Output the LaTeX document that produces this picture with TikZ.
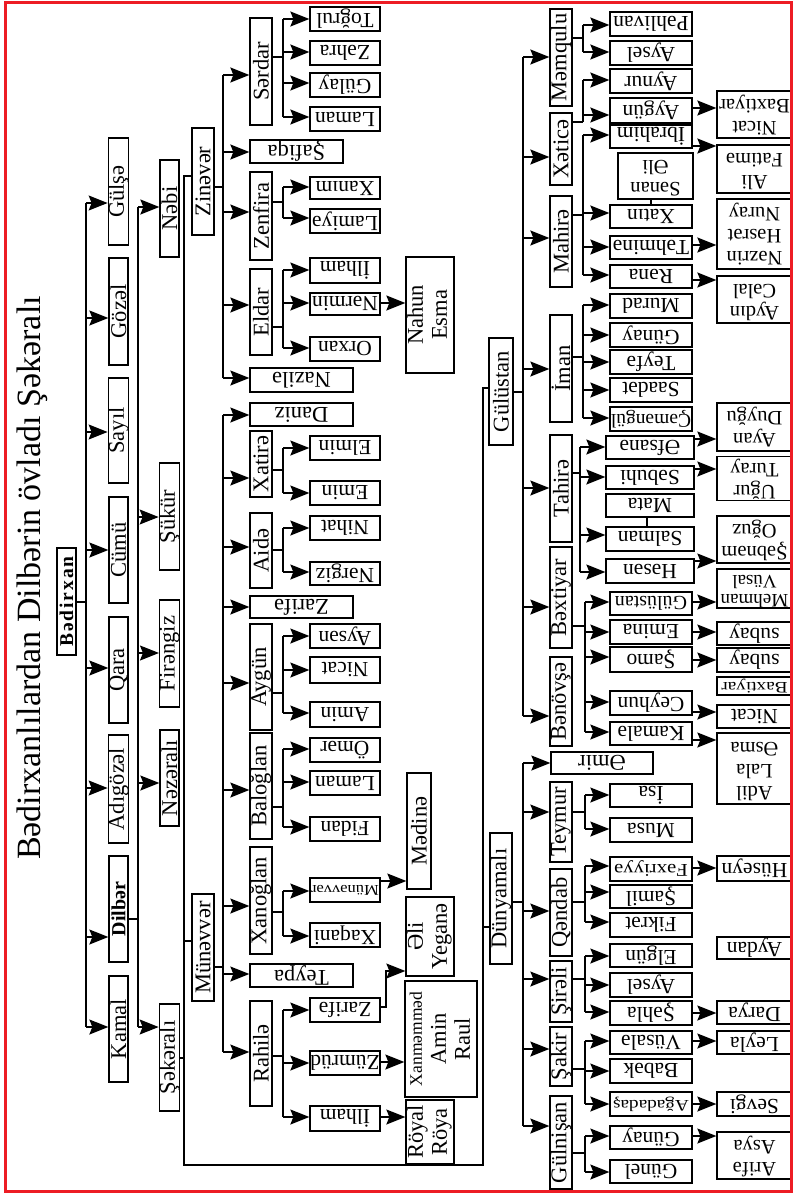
\documentclass[tikz,border=0pt]{standalone}
\usepackage{fontspec}
\setmainfont{Liberation Serif}
\newfontfamily\spacedserif[LetterSpace=10]{Liberation Serif}
\usetikzlibrary{arrows.meta}
\newcommand\fA{\fontsize{22.5}{24}\selectfont}
\newcommand\fB{\fontsize{21.5}{23}\selectfont}
\newcommand\fC{\fontsize{20.5}{22}\selectfont}
\newcommand\tl[2]{\begin{tabular}{@{}c@{}}#1\\#2\end{tabular}}
\newcommand\thl[3]{\begin{tabular}{@{}c@{}}#1\\#2\\#3\end{tabular}}
\newcommand\narrow[3]{\scalebox{#1}[1]{\fontsize{#2}{#2}\selectfont #3}}
\tikzset{
  ln/.style={line width=1.3pt},
  arr/.style={line width=1.3pt,-{Stealth[length=19pt,width=15pt,inset=3pt]}},
  bxs/.style={draw,line width=1.3pt,inner sep=0pt,rectangle,font=\fB}
}
% name, x1, y1, x2, y2, rotation, text
\newcommand\bx[7]{\node[bxs,minimum width={(#4-#2)*1pt},minimum height={(#5-#3)*1pt}] (#1) at ({(#2+#4)/2},{(#3+#5)/2}) {\rotatebox{#6}{#7}};}
% parent, connector y, trunk x, trunk y1, trunk y2, children list
\newcommand\kin[6]{\draw[ln] (#1.east |- 0,#2) -- (#3,#2); \draw[ln] (#3,#4) -- (#3,#5);
  \foreach \n/\y in {#6} \draw[arr] (#3,\y) -- (\n.west |- 0,\y);}
\begin{document}
\begin{tikzpicture}[x=1pt,y=-1pt]
\useasboundingbox (0,0) rectangle (793,1194);
\fill[white] (0,0) rectangle (793,1194);
% title
\node[rotate=90,font=\fontsize{34}{36}\selectfont,inner sep=0pt] (title) at (32,578) {Bədirxanlılardan Dilbərin övladı Şəkəralı};
% level 0
\bx{bedir}{57}{548}{76}{655}{90}{\fontsize{19.5}{21}\selectfont\spacedserif\bfseries Bədirxan}
% level 1
\bx{gulse}{109}{138}{128}{245}{90}{\fA Gülşə}
\bx{gozel}{109}{258}{128}{365}{90}{\fA Gözəl}
\bx{sayil}{109}{378}{128}{483}{90}{\fA Sayıl}
\bx{cumu}{109}{497}{128}{603}{90}{\fA Cümü}
\bx{qara}{109}{617}{128}{723}{90}{\fA Qara}
\bx{adigozel}{109}{735}{128}{843}{90}{\fA Adıgözəl}
\bx{dilber}{109}{856}{128}{962}{90}{\fontsize{20}{22}\selectfont\bfseries Dilbər}
\bx{kamal}{109}{976}{128}{1082}{90}{\fA Kamal}
% level 2
\bx{nebi}{160}{160}{179}{257}{90}{\fA Nəbi}
\bx{sukur}{160}{463}{179}{570}{90}{\fA Şükür}
\bx{firengiz}{160}{600}{179}{707}{90}{\fA Firəngiz}
\bx{nezerali}{160}{730}{179}{826}{90}{\fA Nəzəralı}
\bx{sekerali}{160}{1004}{179}{1111}{90}{\fA Şəkəralı}
% level 3
\bx{zinever}{192}{128}{214}{235}{90}{\fA Zinəvər}
\bx{munevver}{192}{894}{214}{1001}{90}{\fA Münəvvər}
\bx{gulustan}{489}{338}{513}{445}{90}{\fA Gülüstan}
\bx{dunyamali}{490}{833}{512}{964}{90}{\fA Dünyamalı}
% level 4 left
\bx{serdar}{250}{18}{272}{125}{90}{\fA Sərdar}
\bx{safiqa}{250}{140}{343}{163}{180}{\fA Şafiqa}
\bx{zenfira}{250}{172}{272}{260}{90}{\fA Zenfira}
\bx{eldar}{250}{269}{272}{355}{90}{\fA Eldar}
\bx{nazile}{250}{368}{353}{392}{180}{\fA Nazilə}
\bx{daniz}{250}{403}{353}{426}{180}{\fA Daniz}
\bx{xatire}{250}{431}{272}{497}{90}{\fA Xatirə}
\bx{aide}{250}{513}{272}{588}{90}{\fA Aidə}
\bx{zarifeA}{250}{596}{353}{618}{180}{\fA Zarifə}
\bx{aygun}{250}{624}{272}{730}{90}{\fA Aygün}
\bx{baloglan}{250}{733}{272}{839}{90}{\fA Baloğlan}
\bx{xanoglan}{250}{847}{272}{954}{90}{\fA Xanoğlan}
\bx{teypa}{250}{964}{353}{987}{180}{\fA Teypa}
\bx{rahile}{250}{1001}{272}{1106}{90}{\fA Rahilə}
% level 5 left
\bx{togrul}{310}{7}{380}{31}{180}{Toğrul}
\bx{zehra}{310}{41}{380}{65}{180}{Zəhra}
\bx{gulay}{310}{73}{380}{97}{180}{Gülay}
\bx{lamanA}{310}{107}{380}{131}{180}{Laman}
\bx{xanim}{310}{177}{380}{199}{180}{Xanım}
\bx{lamiye}{310}{209}{380}{233}{180}{Lamiyə}
\bx{ilhamA}{310}{258}{380}{283}{180}{İlham}
\bx{nermin}{310}{293}{380}{315}{180}{Nərmin}
\bx{orxan}{310}{337}{380}{361}{180}{Orxan}
\bx{elmin}{310}{436}{380}{460}{180}{Elmin}
\bx{emin}{310}{481}{380}{505}{180}{Emin}
\bx{nihat}{310}{516}{380}{540}{180}{Nihat}
\bx{nergiz}{310}{562}{380}{585}{180}{Nərgiz}
\bx{aysen}{310}{624}{380}{648}{180}{Aysən}
\bx{nicatA}{310}{657}{380}{683}{180}{Nicat}
\bx{aminA}{310}{702}{380}{727}{180}{Amin}
\bx{omer}{310}{738}{380}{762}{180}{Ömər}
\bx{lamanB}{310}{771}{380}{795}{180}{Laman}
\bx{fidan}{310}{817}{380}{841}{180}{Fidan}
\bx{munevverB}{310}{878}{380}{902}{180}{\narrow{1.1}{15}{Münəvvər}}
\bx{xaqani}{310}{923}{380}{947}{180}{Xaqani}
\bx{zarifeB}{310}{998}{380}{1022}{180}{Zarifə}
\bx{zumrud}{310}{1051}{380}{1075}{180}{Zümrüd}
\bx{ilhamB}{310}{1106}{380}{1131}{180}{İlham}
% side boxes left
\bx{nahun}{407}{257}{453}{373}{90}{\fA\tl{Nahun}{Esma}}
\bx{medine}{407}{773}{431}{889}{90}{\fA Mədinə}
\bx{eli}{407}{897}{453}{976}{90}{\fA\tl{Əli}{Yeganə}}
\bx{xanm}{407}{981}{475}{1097}{90}{\fA\begin{tabular}{@{}c@{}}{\fontsize{17.5}{19}\selectfont Xanməmməd}\\Amin\\Raul\end{tabular}}
\bx{royal}{407}{1100}{453}{1164}{90}{\fA\tl{Röyal}{Röya}}
% right level
\bx{memqulu}{550}{9}{572}{106}{90}{\fA Məmqulu}
\bx{xetice}{550}{113}{572}{185}{90}{\fA Xəticə}
\bx{mahire}{550}{196}{572}{287}{90}{\fA Mahirə}
\bx{iman}{550}{315}{572}{422}{90}{\fA İman}
\bx{tahire}{550}{435}{572}{542}{90}{\fA Tahirə}
\bx{bextiyar}{550}{547}{572}{648}{90}{\fA Bəxtiyar}
\bx{benovse}{550}{657}{572}{746}{90}{\fA Bənövşə}
\bx{emir}{551}{752}{653}{774}{180}{\fA Əmir}
\bx{teymur}{550}{782}{572}{862}{90}{\fA Teymur}
\bx{qendab}{550}{869}{572}{956}{90}{\fA Qəndab}
\bx{sirali}{550}{961}{572}{1022}{90}{\fA Şirəli}
\bx{sakir}{550}{1027}{572}{1086}{90}{\fA Şakir}
\bx{gulnisan}{550}{1096}{572}{1189}{90}{\fA Gülnişan}
% right leaves
\bx{pehlivan}{610}{12}{692}{36}{180}{Pəhlivan}
\bx{aysel}{610}{41}{692}{65}{180}{Aysel}
\bx{aynur}{610}{69}{692}{93}{180}{Aynur}
\bx{aygunB}{610}{98}{692}{123}{180}{Aygün}
\bx{ibrahim}{610}{125}{692}{148}{180}{İbrahim}
\bx{senan}{618}{153}{693}{199}{180}{\fC\tl{Sənan}{Əli}}
\bx{xatin}{610}{205}{692}{228}{180}{Xatın}
\bx{tehmine}{610}{236}{692}{259}{180}{Təhminə}
\bx{rena}{610}{265}{692}{288}{180}{Rəna}
\bx{murad}{610}{294}{692}{318}{180}{Murad}
\bx{gunayA}{610}{323}{692}{347}{180}{Günay}
\bx{teyfa}{610}{350}{692}{374}{180}{Teyfə}
\bx{saadet}{610}{378}{692}{402}{180}{Saadət}
\bx{cemengul}{610}{407}{692}{431}{180}{\fontsize{19.5}{21}\selectfont Çəməngül}
\bx{efsane}{606}{436}{694}{459}{180}{Əfsanə}
\bx{sebuhi}{606}{466}{694}{489}{180}{Səbuhi}
\bx{mata}{606}{494}{694}{517}{180}{Mata}
\bx{salman}{606}{527}{694}{551}{180}{Salman}
\bx{hesen}{606}{559}{694}{583}{180}{Həsən}
\bx{gulustanB}{610}{592}{692}{615}{180}{\fontsize{20}{22}\selectfont Gülüstan}
\bx{emina}{610}{620}{692}{644}{180}{Emina}
\bx{samo}{610}{647}{692}{672}{180}{Şamo}
\bx{ceyhun}{610}{691}{692}{715}{180}{Ceyhun}
\bx{kamale}{610}{722}{692}{745}{180}{Kamalə}
\bx{isa}{610}{784}{692}{807}{180}{İsa}
\bx{musa}{610}{818}{692}{842}{180}{Musa}
\bx{fexriyye}{610}{857}{692}{881}{180}{\narrow{1.15}{18}{Fəxriyyə}}
\bx{samil}{610}{885}{692}{908}{180}{Şamil}
\bx{fikret}{610}{913}{692}{937}{180}{Fikrət}
\bx{elgun}{610}{944}{692}{967}{180}{Elgün}
\bx{aysel2}{610}{973}{692}{997}{180}{Aysel}
\bx{sehla}{610}{1001}{692}{1025}{180}{Şəhla}
\bx{vusale}{610}{1031}{692}{1054}{180}{Vüsalə}
\bx{babek}{610}{1059}{692}{1083}{180}{Babək}
\bx{agadadas}{610}{1092}{692}{1116}{180}{\narrow{1.2}{16}{Ağadadaş}}
\bx{gunayB}{610}{1126}{692}{1149}{180}{Günay}
\bx{gunel}{610}{1160}{692}{1183}{180}{Günel}
% outer column
\bx{nicatB}{717}{91}{792}{138}{180}{\fC\tl{Nicat}{Baxtiyar}}
\bx{ali}{717}{145}{792}{193}{180}{\fC\tl{Ali}{Fatimə}}
\bx{nezrin}{717}{199}{792}{269}{180}{\fC\thl{Nəzrin}{Həsrət}{Nuray}}
\bx{aydin}{717}{276}{792}{323}{180}{\fC\tl{Aydın}{Cəlal}}
\bx{ayan}{717}{403}{792}{451}{180}{\fC\tl{Ayan}{Duyğu}}
\bx{ugur}{717}{457}{792}{500}{180}{\fC\tl{Uğur}{Turay}}
\bx{sebnem}{717}{516}{792}{563}{180}{\fC\tl{Şəbnəm}{Oğuz}}
\bx{mehman}{717}{569}{792}{608}{180}{\fontsize{19}{19}\selectfont\tl{Mehman}{Vüsal}}
\bx{subayA}{717}{622}{792}{645}{180}{subay}
\bx{subayB}{717}{648}{792}{672}{180}{subay}
\bx{baxtiyar}{717}{677}{792}{695}{180}{\narrow{1.2}{16}{Baxtiyar}}
\bx{nicatC}{717}{705}{792}{728}{180}{Nicat}
\bx{adil}{717}{733}{792}{804}{180}{\fC\thl{Adil}{Lala}{Əsma}}
\bx{huseyn}{717}{856}{792}{881}{180}{Hüseyn}
\bx{aydan}{717}{937}{792}{959}{180}{Aydan}
\bx{darya}{717}{1001}{792}{1024}{180}{Darya}
\bx{leyla}{717}{1031}{792}{1054}{180}{Leyla}
\bx{sevgi}{717}{1092}{792}{1116}{180}{Sevgi}
\bx{arife}{717}{1132}{792}{1179}{180}{\fC\tl{Arifə}{Asya}}
% ---------- connectors ----------
\kin{bedir}{602}{86}{203}{1027}{gulse/203, gozel/318, sayil/432, cumu/550, qara/668, adigozel/788, dilber/937, kamal/1027}
\kin{dilber}{919}{138}{207}{1027}{nebi/207, sukur/517, firengiz/653, nezerali/783, sekerali/1027}
\draw[ln] (sekerali.east |- 0,1058) -- (184,1058);
\draw[ln] (zinever.west |- 0,176) -- (184,176) -- (184,1165) -- (483,1165) -- (483,388) -- (gulustan.west |- 0,388);
\draw[ln] (184,941) -- (munevver.west |- 0,941);
\draw[ln] (483,927) -- (dunyamali.west |- 0,927);
\kin{zinever}{187}{223}{75}{378}{serdar/75, safiqa/152, zenfira/212, eldar/305, nazile/378}
\kin{munevver}{967}{223}{415}{1052}{daniz/415, xatire/478, aide/547, zarifeA/607, aygun/683, baloglan/790, xanoglan/906, teypa/974, rahile/1052}
\kin{serdar}{57}{283}{19}{117}{togrul/19, zehra/52, gulay/83, lamanA/117}
\kin{zenfira}{202}{283}{187}{218}{xanim/187, lamiye/218}
\kin{eldar}{327}{283}{270}{348}{ilhamA/270, nermin/303, orxan/348}
\kin{xatire}{470}{283}{448}{493}{elmin/448, emin/493}
\kin{aide}{550}{283}{528}{572}{nihat/528, nergiz/572}
\kin{aygun}{693}{283}{636}{713}{aysen/636, nicatA/670, aminA/713}
\kin{baloglan}{807}{283}{749}{827}{omer/749, lamanB/782, fidan/827}
\kin{xanoglan}{912}{283}{891}{936}{munevverB/891, xaqani/936}
\kin{rahile}{1056}{283}{1010}{1117}{zarifeB/1010, zumrud/1063, ilhamB/1117}
\draw[arr] (nermin.east |- 0,303) -- (nahun.west |- 0,303);
\draw[arr] (munevverB.east |- 0,881) -- (medine.west |- 0,881);
\draw[arr] (zarifeB.east |- 0,1007) -- (386,1007) -- (386,971) -- (eli.west |- 0,971);
\draw[arr] (zumrud.east |- 0,1062) -- (xanm.west |- 0,1062);
\draw[arr] (ilhamB.east |- 0,1117) -- (royal.west |- 0,1117);
% right side
\kin{gulustan}{392}{523}{57}{716}{memqulu/57, xetice/157, mahire/238, iman/369, tahire/488, bextiyar/607, benovse/716}
\kin{dunyamali}{902}{523}{763}{1126}{emir/763, teymur/812, qendab/911, sirali/979, sakir/1049, gulnisan/1126}
\kin{memqulu}{38}{583}{25}{52}{pehlivan/25, aysel/52}
\kin{xetice}{122}{583}{80}{122}{aynur/80, aygunB/115}
\kin{mahire}{215}{583}{135}{275}{ibrahim/135, xatin/213, tehmine/247, rena/275}
\kin{iman}{357}{583}{305}{418}{murad/305, gunayA/335, teyfa/362, saadet/390, cemengul/418}
\kin{tahire}{473}{580}{447}{572}{efsane/447, sebuhi/477, salman/535, hesen/572}
\kin{bextiyar}{626}{585}{602}{732}{gulustanB/602, emina/632, samo/657, ceyhun/702, kamale/732}
\kin{teymur}{812}{585}{795}{829}{isa/795, musa/829}
\kin{qendab}{902}{585}{866}{922}{fexriyye/866, samil/892, fikret/922}
\kin{sirali}{979}{585}{956}{1012}{elgun/956, aysel2/985, sehla/1012}
\kin{sakir}{1069}{585}{1041}{1104}{vusale/1041, babek/1071, agadadas/1104}
\kin{gulnisan}{1153}{585}{1136}{1172}{gunayB/1136, gunel/1172}
\draw[ln] (xatin.north -| 651,0) -- (senan.south -| 651,0);
\draw[ln] (mata.south -| 647,0) -- (salman.north -| 647,0);
\draw[arr] (aygunB.east |- 0,108) -- (nicatB.west |- 0,108);
\draw[arr] (ibrahim.east |- 0,146) -- (ali.west |- 0,146);
\draw[arr] (tehmine.east |- 0,245) -- (nezrin.west |- 0,245);
\draw[arr] (rena.east |- 0,280) -- (aydin.west |- 0,280);
\draw[arr] (efsane.east |- 0,439) -- (ayan.west |- 0,439);
\draw[arr] (sebuhi.east |- 0,469) -- (ugur.west |- 0,469);
\draw[arr] (hesen.east |- 0,561) -- (sebnem.west |- 0,561);
\draw[arr] (gulustanB.east |- 0,602) -- (mehman.west |- 0,602);
\draw[arr] (emina.east |- 0,632) -- (subayA.west |- 0,632);
\draw[arr] (samo.east |- 0,660) -- (subayB.west |- 0,660);
\draw[arr] (ceyhun.east |- 0,712) -- (nicatC.west |- 0,712);
\draw[arr] (kamale.east |- 0,740) -- (adil.west |- 0,740);
\draw[arr] (fexriyye.east |- 0,868) -- (huseyn.west |- 0,868);
\draw[arr] (sehla.east |- 0,1013) -- (darya.west |- 0,1013);
\draw[arr] (vusale.east |- 0,1041) -- (leyla.west |- 0,1041);
\draw[arr] (agadadas.east |- 0,1104) -- (sevgi.west |- 0,1104);
\draw[arr] (gunayB.east |- 0,1136) -- (arife.west |- 0,1136);
% red frame
\draw[line width=3pt,color={rgb,255:red,237;green,28;blue,36}] (5,2.5) rectangle (791.5,1191);
\end{tikzpicture}
\end{document}
